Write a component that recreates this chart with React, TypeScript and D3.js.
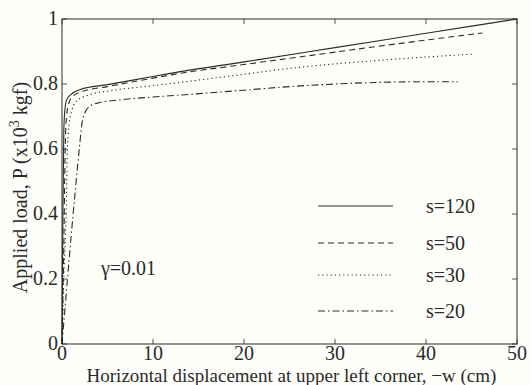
import * as d3 from "d3";

// curve data (x: displacement in cm, y: load in 10^3 kgf)
const s120X = [0, 0.05, 0.1, 0.2, 0.35, 0.5, 1, 2, 5, 10, 13, 20, 30, 40, 50];
const s120Y = [0, 0.2, 0.4, 0.66, 0.73, 0.75, 0.768, 0.783, 0.798, 0.823, 0.838, 0.868, 0.912, 0.956, 1.0];

const s50X = [0, 0.1, 0.2, 0.35, 0.5, 0.8, 1.2, 2, 5, 10, 13, 20, 30, 35, 40, 46.2];
const s50Y = [0, 0.15, 0.3, 0.6, 0.7, 0.745, 0.762, 0.775, 0.792, 0.818, 0.833, 0.86, 0.898, 0.917, 0.935, 0.957];

const s30X = [0, 0.2, 0.45, 0.6, 0.8, 1.1, 1.5, 3, 5, 10, 13, 20, 25, 30, 35, 40, 45.2];
const s30Y = [0, 0.2, 0.4, 0.6, 0.68, 0.72, 0.745, 0.767, 0.778, 0.795, 0.805, 0.83, 0.848, 0.862, 0.873, 0.883, 0.892];

const s20X = [0, 0.3, 0.6, 1.0, 1.45, 1.9, 2.2, 2.5, 3, 4, 6, 10, 13, 20, 25, 30, 35, 40, 43.5];
const s20Y = [0, 0.1, 0.2, 0.33, 0.47, 0.6, 0.68, 0.71, 0.73, 0.742, 0.75, 0.76, 0.766, 0.781, 0.792, 0.8, 0.805, 0.807, 0.807];

const seriesNames = ["s=120", "s=50", "s=30", "s=20"];
const xTicks = [0, 10, 20, 30, 40, 50];
const yTicks = [0, 0.2, 0.4, 0.6, 0.8, 1];

const dashes = ["", "6,4", "1.2,3", "7,3,1.5,3"];
const legendRows = [206, 243, 275, 311];

const left = 62, right = 517, top = 19, bottom = 344;
const font = "Tinos";
const ink = "#2a2a2a";
const tickLen = 5;

export default function App() {
  const x = d3.scaleLinear().domain([0, 50]).range([left, right]);
  const y = d3.scaleLinear().domain([0, 1]).range([bottom, top]);

  const series = [
    s120X.map((v, i) => [v, s120Y[i]]),
    s50X.map((v, i) => [v, s50Y[i]]),
    s30X.map((v, i) => [v, s30Y[i]]),
    s20X.map((v, i) => [v, s20Y[i]]),
  ] as [number, number][][];

  const line = d3
    .line<[number, number]>()
    .x(d => x(d[0]))
    .y(d => y(d[1]))
    .curve(d3.curveMonotoneX);

  return (
    <svg
      width={531}
      height={385}
      style={{ position: "absolute", left: 0, top: 0, background: "#fefefb" }}
    >
      {/* curves */}
      {series.map((s, i) => (
        <path
          key={seriesNames[i]}
          d={line(s) ?? ""}
          fill="none"
          stroke={ink}
          strokeWidth={1.1}
          strokeDasharray={dashes[i] || undefined}
        />
      ))}

      {/* frame */}
      <rect x={left} y={top} width={right - left} height={bottom - top} fill="none" stroke={ink} strokeWidth={1} />

      {/* x ticks, inward on bottom and top */}
      {xTicks.map(t => (
        <g key={"x" + t} transform={`translate(${x(t)},0)`}>
          <line y1={bottom} y2={bottom - tickLen} stroke={ink} strokeWidth={0.8} />
          <line y1={top} y2={top + tickLen} stroke={ink} strokeWidth={0.8} />
          <text y={bottom + 16} textAnchor="middle" fill={ink} fontFamily={font} fontSize={20}>
            {d3.format("d")(t)}
          </text>
        </g>
      ))}

      {/* y ticks, inward on left and right */}
      {yTicks.map(t => (
        <g key={"y" + t} transform={`translate(0,${y(t)})`}>
          <line x1={left} x2={left + tickLen} stroke={ink} strokeWidth={0.8} />
          <line x1={right} x2={right - tickLen} stroke={ink} strokeWidth={0.8} />
          <text x={left - 4} dy="0.32em" textAnchor="end" fill={ink} fontFamily={font} fontSize={20}>
            {String(t)}
          </text>
        </g>
      ))}

      {/* legend */}
      {seriesNames.map((name, i) => (
        <g key={"leg" + name}>
          <line
            x1={318}
            x2={393}
            y1={legendRows[i]}
            y2={legendRows[i]}
            stroke={ink}
            strokeWidth={1.1}
            strokeDasharray={dashes[i] || undefined}
          />
          <text x={426} y={legendRows[i] + 7} fill={ink} fontFamily={font} fontSize={20}>
            {name}
          </text>
        </g>
      ))}

      <text x={101} y={275} fill={ink} fontFamily={font} fontSize={20}>
        γ=0.01
      </text>

      {/* axis labels */}
      <text x={(left + right) / 2 + 2} y={382} textAnchor="middle" fill={ink} fontFamily={font} fontSize={19}>
        Horizontal displacement at upper left corner, −w (cm)
      </text>
      <text
        transform={`translate(27,${(top + bottom) / 2 + 6}) rotate(-90)`}
        textAnchor="middle"
        fill={ink}
        fontFamily={font}
        fontSize={20}
      >
        <tspan>Applied load, P (x10</tspan>
        <tspan dy={-8} fontSize={14}>3</tspan>
        <tspan dy={8}> kgf)</tspan>
      </text>
    </svg>
  );
}
